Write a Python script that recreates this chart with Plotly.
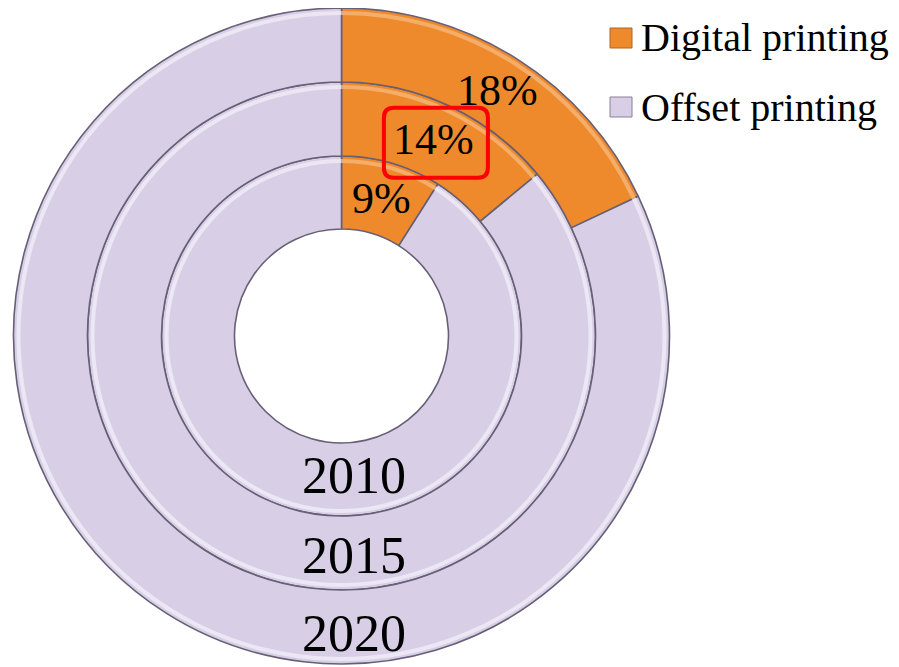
import math
import plotly.graph_objects as go

# ---- data ----
years = ["2010", "2015", "2020"]
series_names = ["Digital printing", "Offset printing"]
digital_pct = [9, 14, 18]
offset_pct = [91, 86, 82]
highlight_year = "2015"

colors = ["#EE8A2C", "#D8CFE6"]
highlight_colors = ["#F7B77A", "#F1ECF7"]

# page geometry: the figure sits 8px from the page's top-left corner (body margin)
OFF = 8
FW, FH = 891, 659
CX, CY = 341.5, 336           # donut center in page pixels
radii = [107, 180, 254, 328]  # hole, ring boundaries (inner -> outer)
year_label_r = [139, 219, 297]  # distance of year labels below center

def px(x):
    return (x - OFF) / FW

def py(y):
    return 1 - (y - OFF) / FH

def dom(r):
    return dict(x=[max(0, px(CX - r)), min(1, px(CX + r))],
                y=[max(0, py(CY + r)), min(1, py(CY - r))])

fig = go.Figure()
for i, yr in enumerate(years):
    r_in, r_out = radii[i], radii[i + 1]
    fig.add_trace(go.Pie(
        labels=series_names,
        values=[digital_pct[i], offset_pct[i]],
        name=yr,
        hole=r_in / r_out,
        sort=False,
        direction="clockwise",
        rotation=0,
        marker=dict(colors=colors, line=dict(color="#675F75", width=1.6)),
        textinfo="none",
        hoverinfo="label+percent+name",
        showlegend=False,
        domain=dom(r_out),
    ))
    # subtle bevel highlight just inside the ring's outer edge
    rb_out, rb_in = r_out - 3, r_out - 7
    fig.add_trace(go.Pie(
        labels=series_names,
        values=[digital_pct[i], offset_pct[i]],
        name=yr,
        hole=rb_in / rb_out,
        sort=False,
        direction="clockwise",
        rotation=0,
        marker=dict(colors=highlight_colors, line=dict(width=0)),
        textinfo="none",
        hoverinfo="skip",
        showlegend=False,
        opacity=0.8,
        domain=dom(rb_out),
    ))

FONT = "Liberation Serif, Times New Roman, serif"
annotations = []
shapes = []
for i, yr in enumerate(years):
    r_in, r_out = radii[i], radii[i + 1]
    r_mid = (r_in + r_out) / 2
    th = math.radians(digital_pct[i] / 100 * 360 / 2)
    lx = CX + r_mid * math.sin(th)
    ly = CY - r_mid * math.cos(th)
    annotations.append(dict(x=px(lx), y=py(ly), xref="paper", yref="paper",
                            xanchor="center", yanchor="middle",
                            text=f"{digital_pct[i]}%", showarrow=False,
                            font=dict(family=FONT, size=44, color="black")))
    if yr == highlight_year:
        x0, x1 = lx - 50, lx + 54
        y0, y1 = ly - 32, ly + 38
        rr = 10
        path = (f"M {px(x0+rr)},{py(y0)} L {px(x1-rr)},{py(y0)} "
                f"Q {px(x1)},{py(y0)} {px(x1)},{py(y0+rr)} L {px(x1)},{py(y1-rr)} "
                f"Q {px(x1)},{py(y1)} {px(x1-rr)},{py(y1)} L {px(x0+rr)},{py(y1)} "
                f"Q {px(x0)},{py(y1)} {px(x0)},{py(y1-rr)} L {px(x0)},{py(y0+rr)} "
                f"Q {px(x0)},{py(y0)} {px(x0+rr)},{py(y0)} Z")
        shapes.append(dict(type="path", path=path, xref="paper", yref="paper",
                           line=dict(color="#FF0000", width=4)))
    # year label at bottom of ring
    annotations.append(dict(x=px(CX + 12), y=py(CY + year_label_r[i]), xref="paper", yref="paper",
                            xanchor="center", yanchor="middle",
                            text=yr, showarrow=False,
                            font=dict(family=FONT, size=52, color="black")))

# legend (manual, for large markers)
leg_y = [38, 107]
for j, name in enumerate(series_names):
    yc = leg_y[j]
    shapes.append(dict(type="rect", xref="paper", yref="paper",
                       x0=px(610), x1=px(632), y0=py(yc + 10), y1=py(yc - 10),
                       fillcolor=colors[j], line=dict(color="#8a7f95" if j else "#B5651D", width=1)))
    annotations.append(dict(x=px(639), y=py(yc), xref="paper", yref="paper",
                            xanchor="left", yanchor="middle", text=name, showarrow=False,
                            font=dict(family=FONT, size=40, color="black")))

fig.update_layout(
    width=FW, height=FH,
    margin=dict(l=0, r=0, t=0, b=0),
    paper_bgcolor="white", plot_bgcolor="white",
    annotations=annotations, shapes=shapes,
)
fig.write_html("out.html")
